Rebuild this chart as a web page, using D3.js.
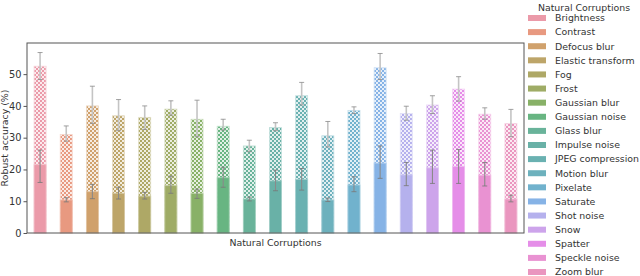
<!DOCTYPE html>
<html>
<head>
<meta charset="utf-8">
<script src="https://cdn.jsdelivr.net/npm/d3@7"></script>
<style>
  body { margin: 0; background: #fff; }
  svg { font-family: "DejaVu Sans", sans-serif; }
</style>
</head>
<body>
<svg id="chart" width="640" height="276"></svg>
<script>
const categories = ["Brightness", "Contrast", "Defocus blur", "Elastic transform", "Fog", "Frost",
  "Gaussian blur", "Gaussian noise", "Glass blur", "Impulse noise", "JPEG compression", "Motion blur",
  "Pixelate", "Saturate", "Shot noise", "Snow", "Spatter", "Speckle noise", "Zoom blur"];

// hatched (taller) bars and their error bar ends
const hatchedValues = [52.5, 31.0, 40.0, 36.9, 36.4, 39.0, 35.8, 33.6, 27.4, 33.2, 43.2, 30.6, 38.6, 52.0, 37.6, 40.3, 45.3, 37.4, 34.5];
const hatchedHi = [56.8, 33.7, 46.2, 42.0, 40.0, 41.6, 41.8, 35.8, 29.2, 34.7, 47.4, 35.1, 39.7, 56.5, 39.9, 43.2, 49.2, 39.4, 38.9];
const hatchedLo = [48.3, 28.9, 34.5, 32.2, 32.6, 37.1, 30.3, 32.4, 25.6, 32.2, 40.3, 27.1, 37.6, 48.3, 35.5, 37.6, 41.5, 35.8, 30.3];

// solid (lower) bars and their error bar ends
const solidValues = [21.5, 10.4, 13.0, 12.5, 11.6, 14.9, 12.4, 17.4, 10.7, 16.4, 16.9, 10.4, 15.1, 22.0, 18.3, 20.5, 20.9, 18.2, 10.7];
const solidHi = [26.1, 11.1, 15.3, 14.4, 12.8, 17.9, 13.8, 20.7, 11.3, 19.8, 20.3, 11.0, 17.7, 27.4, 22.2, 26.1, 26.3, 22.2, 11.9];
const solidLo = [15.9, 9.8, 10.8, 10.7, 10.7, 12.5, 10.9, 14.4, 10.1, 13.3, 13.5, 9.9, 13.0, 17.2, 14.9, 15.6, 15.6, 14.8, 9.8];

const yTicks = [0, 10, 20, 30, 40, 50];

// --- husl palette (seaborn style) ---
const M = [[3.240969941904521, -1.537383177570093, -0.498610760293],
  [-0.96924363628087, 1.87596750150772, 0.041555057407175],
  [0.055630079696993, -0.20397695888897, 1.056971514242878]];
const refU = 0.19783000664283, refV = 0.46831999493879, kappa = 903.2962962, eps = 0.0088564516;

function getBounds(L) {
  const out = [];
  const sub1 = Math.pow(L + 16, 3) / 1560896;
  const sub2 = sub1 > eps ? sub1 : L / kappa;
  for (const [m1, m2, m3] of M) {
    for (const t of [0, 1]) {
      const top1 = (284517 * m1 - 94839 * m3) * sub2;
      const top2 = (838422 * m3 + 769860 * m2 + 731718 * m1) * L * sub2 - 769860 * t * L;
      const bottom = (632260 * m3 - 126452 * m2) * sub2 + 126452 * t;
      out.push([top1 / bottom, top2 / bottom]);
    }
  }
  return out;
}
function maxChroma(L, H) {
  const hr = H / 360 * Math.PI * 2;
  let min = Infinity;
  getBounds(L).forEach(([s, i]) => {
    const len = i / (Math.sin(hr) - s * Math.cos(hr));
    if (len >= 0) min = Math.min(min, len);
  });
  return min;
}
function huslToRgb(H, S, L) {
  const C = maxChroma(L, H) / 100 * S;
  const hr = H / 180 * Math.PI;
  const U = Math.cos(hr) * C, V = Math.sin(hr) * C;
  const varU = U / (13 * L) + refU, varV = V / (13 * L) + refV;
  const Y = L <= 8 ? L / kappa : Math.pow((L + 16) / 116, 3);
  const X = 0 - (9 * Y * varU) / ((varU - 4) * varV - varU * varV);
  const Z = (9 * Y - 15 * varV * Y - varV * X) / (3 * varV);
  const lin = M.map(r => r[0] * X + r[1] * Y + r[2] * Z);
  const f = c => c <= 0.0031308 ? 12.92 * c : 1.055 * Math.pow(c, 1 / 2.4) - 0.055;
  const [r, g, b] = lin.map(c => Math.max(0, Math.min(1, f(c))) * 255);
  return d3.rgb(r, g, b);
}
// seaborn husl palette, desaturated like barplot, then seen at alpha .8 on white
const colors = categories.map((c, i) => {
  const h = ((i / categories.length + 0.01) % 1) * 359;
  const col = d3.hsl(huslToRgb(h, 0.9 * 99, 0.65 * 99));
  col.s *= 0.75;
  return d3.interpolateRgb(col.formatHex(), "#fff")(0.2);
});

// --- layout ---
const svg = d3.select("#chart");
const mLeft = 27, mRight = 524, mTop = 43, mBottom = 233;
const fs = 9.4;

const x = d3.scaleBand().domain(categories).range([mLeft, mRight]).padding(0);
const y = d3.scaleLinear().domain([0, 59.8]).range([mBottom, mTop]);
const bw = x.bandwidth() * 0.46;

const defs = svg.append("defs");
colors.forEach((c, i) => {
  const p = defs.append("pattern").attr("id", "hatch" + i)
    .attr("patternUnits", "userSpaceOnUse").attr("width", 4).attr("height", 4);
  p.append("rect").attr("width", 4).attr("height", 4).attr("fill", d3.interpolateRgb(c, "#fff")(0.8));
  p.append("rect").attr("width", 2).attr("height", 2).attr("fill", c);
  p.append("rect").attr("x", 2).attr("y", 2).attr("width", 2).attr("height", 2).attr("fill", c);
});

const rows = categories.map((c, i) => ({ c, i }));

// hatched bars
svg.append("g").selectAll("rect").data(rows).join("rect")
  .attr("x", d => x(d.c) + (x.bandwidth() - bw) / 2)
  .attr("width", bw)
  .attr("y", d => y(hatchedValues[d.i]))
  .attr("height", d => y(0) - y(hatchedValues[d.i]))
  .attr("fill", d => "url(#hatch" + d.i + ")")
  .attr("stroke", d => d3.interpolateRgb(colors[d.i], "#fff")(0.6))
  .attr("stroke-width", 0.8);

// solid bars
svg.append("g").selectAll("rect").data(rows).join("rect")
  .attr("x", d => x(d.c) + (x.bandwidth() - bw) / 2)
  .attr("width", bw)
  .attr("y", d => y(solidValues[d.i]))
  .attr("height", d => y(0) - y(solidValues[d.i]))
  .attr("fill", d => colors[d.i])
  .attr("stroke", d => d3.interpolateRgb(colors[d.i], "#fff")(0.4))
  .attr("stroke-width", 0.8);

function errorBars(lo, hi, lineColor, capColor, lw) {
  const g = svg.append("g");
  rows.forEach(d => {
    const cx = x(d.c) + x.bandwidth() / 2;
    g.append("line").attr("x1", cx).attr("x2", cx)
      .attr("y1", y(lo[d.i])).attr("y2", y(hi[d.i]))
      .attr("stroke", lineColor).attr("stroke-width", lw);
    [lo[d.i], hi[d.i]].forEach(v => {
      g.append("line").attr("x1", cx - 2.5).attr("x2", cx + 2.5)
        .attr("y1", y(v)).attr("y2", y(v))
        .attr("stroke", capColor).attr("stroke-width", 0.8);
    });
  });
}
errorBars(hatchedLo, hatchedHi, "#c4c4c4", "#8a8a8a", 1.6);
errorBars(solidLo, solidHi, "#8a8a8a", "#777", 1.1);

// frame
svg.append("rect").attr("x", mLeft).attr("y", mTop)
  .attr("width", mRight - mLeft).attr("height", mBottom - mTop)
  .attr("fill", "none").attr("stroke", "#555").attr("stroke-width", 1);

// y axis
const yAxis = svg.append("g").attr("transform", `translate(${mLeft},0)`)
  .call(d3.axisLeft(y).tickValues(yTicks).tickSize(3.5).tickPadding(2));
yAxis.select(".domain").remove();
yAxis.selectAll("line").attr("stroke", "#555");
yAxis.selectAll("text").attr("font-size", fs + 0.4).attr("fill", "#333")
  .style("font-family", "DejaVu Sans");

svg.append("text")
  .attr("transform", `translate(5,${(mTop + mBottom) / 2}) rotate(-90)`)
  .attr("text-anchor", "middle").attr("dy", "0.35em")
  .attr("font-size", fs).attr("fill", "#333")
  .text("Robust accuracy (%)");

svg.append("text")
  .attr("x", (mLeft + mRight) / 2).attr("y", 246)
  .attr("text-anchor", "middle")
  .attr("font-size", fs).attr("fill", "#333")
  .text("Natural Corruptions");

// legend
const legend = svg.append("g");
legend.append("text").attr("x", 584).attr("y", 11)
  .attr("text-anchor", "middle").attr("font-size", fs).attr("fill", "#333")
  .text("Natural Corruptions");
const ly = d3.scalePoint().domain(categories).range([18, 272]);
categories.forEach((c, i) => {
  legend.append("rect").attr("x", 528).attr("y", ly(c) - 3).attr("width", 18).attr("height", 6)
    .attr("fill", colors[i]);
  legend.append("text").attr("x", 555).attr("y", ly(c)).attr("dy", "0.35em")
    .attr("font-size", fs).attr("fill", "#333").text(c);
});
</script>
</body>
</html>
